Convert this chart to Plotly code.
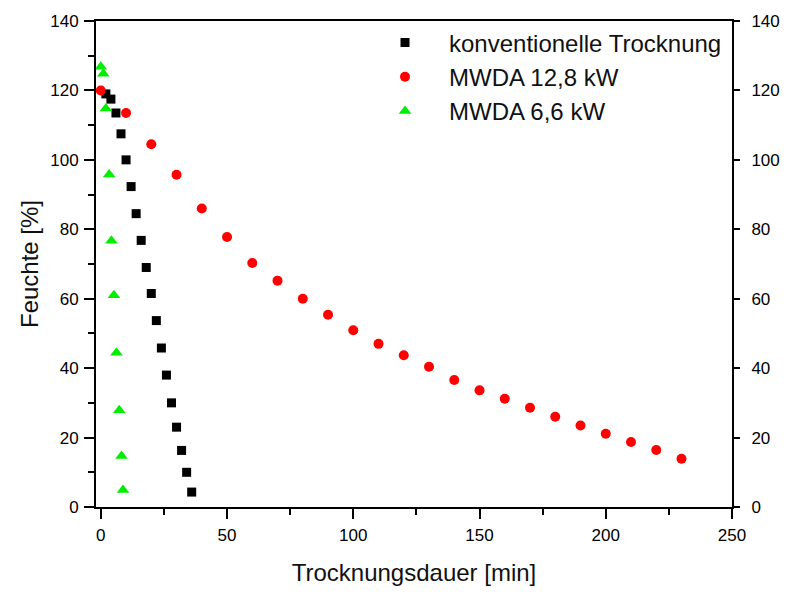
import plotly.graph_objects as go

# --- data ---
konv_x = [2, 4, 6, 8, 10, 12, 14, 16, 18, 20, 22, 24, 26, 28, 30, 32, 34, 36]
konv_y = [119, 117.5, 113.5, 107.5, 100, 92.3, 84.5, 76.8, 69, 61.5, 53.7, 45.8, 38, 30, 23, 16.3, 10, 4.3]

mw128_x = [0, 10, 20, 30, 40, 50, 60, 70, 80, 90, 100, 110, 120, 130, 140, 150, 160, 170, 180, 190, 200, 210, 220, 230]
mw128_y = [120, 113.5, 104.5, 95.7, 86, 77.8, 70.3, 65.2, 60, 55.4, 50.9, 47, 43.7, 40.4, 36.6, 33.6, 31.2, 28.6, 26, 23.5, 21.1, 18.7, 16.4, 13.9]

mw66_x = [0, 1, 2, 3.3, 4.2, 5.2, 6.2, 7.3, 8.2, 8.8]
mw66_y = [126.8, 124.8, 114.8, 95.8, 76.7, 61, 44.4, 27.9, 14.7, 4.9]

names = ["konventionelle Trocknung", "MWDA 12,8 kW", "MWDA 6,6 kW"]
x_ticks = [0, 50, 100, 150, 200, 250]
y_ticks = [0, 20, 40, 60, 80, 100, 120, 140]

FONT = "Liberation Sans, Arial, sans-serif"

fig = go.Figure()
fig.add_trace(go.Scatter(x=konv_x, y=konv_y, mode="markers", name=names[0],
                         legendgroup="a",
                         marker=dict(symbol="square", size=9, color="black")))
fig.add_trace(go.Scatter(x=mw128_x, y=mw128_y, mode="markers", name=names[1],
                         legendgroup="b",
                         marker=dict(symbol="circle", size=10, color="#ff0000")))
fig.add_trace(go.Scatter(x=mw66_x, y=mw66_y, mode="markers", name=names[2],
                         legendgroup="c",
                         marker=dict(symbol="triangle-up", size=11, color="#00ee00")))
# invisible helper so the right axis is drawn
fig.add_trace(go.Scatter(x=mw128_x, y=mw128_y, mode="markers", yaxis="y2",
                         showlegend=False, hoverinfo="skip",
                         marker=dict(opacity=0)))

axis_common = dict(showgrid=False, zeroline=False, showline=True,
                   linecolor="black", linewidth=2,
                   tickcolor="black", tickwidth=2,
                   tickfont=dict(family=FONT, size=17, color="black"))

fig.update_layout(
    width=792, height=594,
    margin=dict(l=96, r=48, t=19, b=79),
    paper_bgcolor="white", plot_bgcolor="white",
    showlegend=True, hovermode=False,
    legend=dict(x=0.4167, y=1.001, xanchor="left", yanchor="top",
                font=dict(family=FONT, size=24, color="#111111"),
                bgcolor="rgba(0,0,0,0)", itemwidth=78,
                tracegroupgap=0),
    xaxis=dict(range=[-1.9, 250], tickvals=x_ticks, ticks="outside", ticklen=10,
               mirror=True, ticklabelstandoff=2,
               minor=dict(dtick=25, tick0=0, ticks="outside", ticklen=6,
                          tickcolor="black", tickwidth=2),
               title=dict(text="Trocknungsdauer [min]", standoff=20,
                          font=dict(family=FONT, size=24, color="#111111")),
               **axis_common),
    yaxis=dict(range=[0, 140], tickvals=y_ticks, ticks="outside", ticklen=10,
               ticklabelstandoff=2,
               minor=dict(dtick=10, tick0=0, ticks="outside", ticklen=6,
                          tickcolor="black", tickwidth=2),
               title=dict(text="Feuchte [%]", standoff=5,
                          font=dict(family=FONT, size=24, color="#111111")),
               **axis_common),
    yaxis2=dict(range=[0, 140], tickvals=y_ticks, ticks="outside", ticklen=6,
                overlaying="y", side="right", ticklabelstandoff=8,
                **axis_common),
)

fig.write_html(
    "out.html",
    config={"displayModeBar": False, "staticPlot": True},
    post_script=(
        "var s=document.documentElement.style;s.margin='0';s.padding='0';"
        "s.overflow='hidden';"
        "var b=document.body.style;b.margin='0';b.padding='0';"
        "b.overflow='hidden';"
    ),
)
